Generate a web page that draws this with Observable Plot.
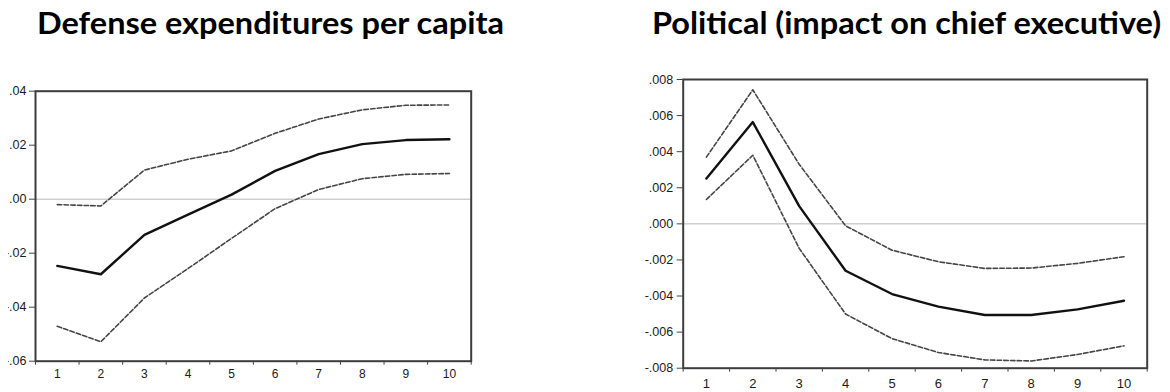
<!DOCTYPE html>
<html>
<head>
<meta charset="utf-8">
<script src="https://cdn.jsdelivr.net/npm/d3@7"></script>
<script src="https://cdn.jsdelivr.net/npm/@observablehq/plot@0.6"></script>
<style>
  html, body { margin: 0; padding: 0; background: #fff; }
  #page { position: relative; width: 1170px; height: 392px; overflow: hidden; background: #fff; }
  .title { position: absolute; top: 4px; font-family: Lato, "Open Sans", sans-serif; font-weight: 700;
           font-size: 30px; line-height: 36px; color: #000; white-space: nowrap; transform-origin: 0 0; }
  .panel { position: absolute; top: 60px; }
</style>
</head>
<body>
<div id="page">
  <div class="title" id="t1" style="left:37px">Defense expenditures per capita</div>
  <div class="title" id="t2" style="left:652px">Political (impact on chief executive)</div>
  <div class="panel" id="p1" style="left:0px"></div>
  <div class="panel" id="p2" style="left:600px"></div>
</div>
<script>
// ---- data ----
const steps = [1, 2, 3, 4, 5, 6, 7, 8, 9, 10];

const defenseIRF   = [-0.0247, -0.0278, -0.0132, -0.0057, 0.0017, 0.0105, 0.0167, 0.0204, 0.0219, 0.0222];
const defenseUpper = [-0.0020, -0.0025, 0.0108, 0.0148, 0.0179, 0.0244, 0.0297, 0.0331, 0.0348, 0.0349];
const defenseLower = [-0.0471, -0.0528, -0.0366, -0.0257, -0.0145, -0.0035, 0.0036, 0.0076, 0.0092, 0.0095];

const politicalIRF   = [0.00251, 0.00564, 0.00098, -0.00260, -0.00389, -0.00459, -0.00505, -0.00505, -0.00474, -0.00426];
const politicalUpper = [0.00370, 0.00743, 0.00330, -0.00011, -0.00146, -0.00210, -0.00247, -0.00245, -0.00219, -0.00182];
const politicalLower = [0.00135, 0.00380, -0.00136, -0.00500, -0.00636, -0.00713, -0.00754, -0.00760, -0.00724, -0.00676];

const defenseYTicks   = [-0.06, -0.04, -0.02, 0, 0.02, 0.04];
const politicalYTicks = [-0.008, -0.006, -0.004, -0.002, 0, 0.002, 0.004, 0.006, 0.008];

const titles = ["Defense expenditures per capita", "Political (impact on chief executive)"];

// ---- helpers ----
const evFormat = digits => d => {
  const s = d3.format("." + digits + "f")(Math.abs(d)).replace(/^0/, "");
  return (d < 0 ? "-" : "") + s;
};
const boundaries = [steps[0] - 0.5, ...steps.map(s => s + 0.5)];

function panel(o) {
  const rows = steps.map((s, i) => ({step: s, irf: o.irf[i], upper: o.upper[i], lower: o.lower[i]}));
  const dash = {x: "step", stroke: "#454545", strokeWidth: 1.6, strokeDasharray: "4.5,2.2"};
  return Plot.plot({
    width: o.width, height: o.height,
    marginLeft: o.ml, marginRight: o.mr, marginTop: o.mt, marginBottom: o.mb,
    style: {fontFamily: "'Liberation Sans', Arial, sans-serif", background: "white", overflow: "visible"},
    x: {domain: [0.5, 10.5], label: null},
    y: {domain: o.yDomain, label: null},
    marks: [
      Plot.ruleY([0], {stroke: "#b8b8b8", strokeWidth: 1}),
      Plot.lineY(rows, {...dash, y: "upper"}),
      Plot.lineY(rows, {...dash, y: "lower"}),
      Plot.lineY(rows, {x: "step", y: "irf", stroke: "#111", strokeWidth: 2.4}),
      Plot.frame({stroke: "#3c3c3c", strokeWidth: 2}),
      Plot.axisY({ticks: o.yTicks, tickFormat: o.fmt, tickSize: 6, tickPadding: o.yPad,
                  fontSize: o.yFont, stroke: "#444", fill: "#1a1a1a", label: null}),
      Plot.axisX({ticks: boundaries, tickFormat: () => "", tickSize: 4, stroke: "#444", label: null}),
      Plot.axisX({ticks: steps, tickFormat: d => String(d), tickSize: 0, tickPadding: o.xPad,
                  fontSize: o.xFont, fill: "#1a1a1a", label: null})
    ]
  });
}

const left = panel({
  irf: defenseIRF, upper: defenseUpper, lower: defenseLower,
  yDomain: [-0.06, 0.04], yTicks: defenseYTicks, fmt: evFormat(2),
  width: 490, height: 332, ml: 35, mr: 19.3, mt: 30.7, mb: 31.3,
  yFont: 12.5, xFont: 12, yPad: 3, xPad: 8.5
});
left.style.clipPath = "inset(0 0 0 8px)";
document.getElementById("p1").appendChild(left);

const right = panel({
  irf: politicalIRF, upper: politicalUpper, lower: politicalLower,
  yDomain: [-0.008, 0.008], yTicks: politicalYTicks, fmt: evFormat(3),
  width: 570, height: 332, ml: 82.7, mr: 23.3, mt: 19, mb: 24.3,
  yFont: 12.5, xFont: 13, yPad: 4, xPad: 10.5
});
document.getElementById("p2").appendChild(right);

// titles: condense to the reference width
const t1 = document.getElementById("t1"), t2 = document.getElementById("t2");
t1.textContent = titles[0]; t2.textContent = titles[1];
const k = 467 / t1.getBoundingClientRect().width;
t1.style.transform = `scaleX(${k})`;
t2.style.transform = `scaleX(${k})`;
</script>
</body>
</html>
